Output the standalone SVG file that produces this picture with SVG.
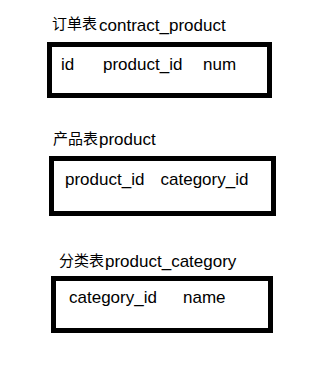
<svg xmlns="http://www.w3.org/2000/svg" width="325" height="392" viewBox="0 0 325 392">
<style>
.box{fill:#fff;stroke:#000;stroke-width:5}
.t{font-family:"Liberation Sans","Noto Sans CJK SC",sans-serif;font-size:17px;fill:#000}
.c{font-family:"Noto Sans CJK SC",sans-serif;font-size:15px;fill:#000}
</style>
<rect width="325" height="392" fill="#fff"/>
<g id="contract_product">
<text class="c" x="52" y="29">订单表</text>
<text class="t" x="99" y="31">contract_product</text>
<rect class="box" x="49.5" y="44.5" width="220" height="51"/>
<text class="t" x="61" y="70">id</text>
<text class="t" x="103" y="70">product_id</text>
<text class="t" x="203" y="70">num</text>
</g>
<g id="product">
<text class="c" x="53" y="144">产品表</text>
<text class="t" x="99" y="145">product</text>
<rect class="box" x="51.5" y="158.5" width="222" height="55"/>
<text class="t" x="65" y="185">product_id</text>
<text class="t" x="160.5" y="185">category_id</text>
</g>
<g id="product_category">
<text class="c" x="59" y="266">分类表</text>
<text class="t" x="105" y="267">product_category</text>
<rect class="box" x="53.5" y="278.5" width="217" height="52"/>
<text class="t" x="69" y="303">category_id</text>
<text class="t" x="183" y="303">name</text>
</g>
<g id="connectors"></g>
</svg>
